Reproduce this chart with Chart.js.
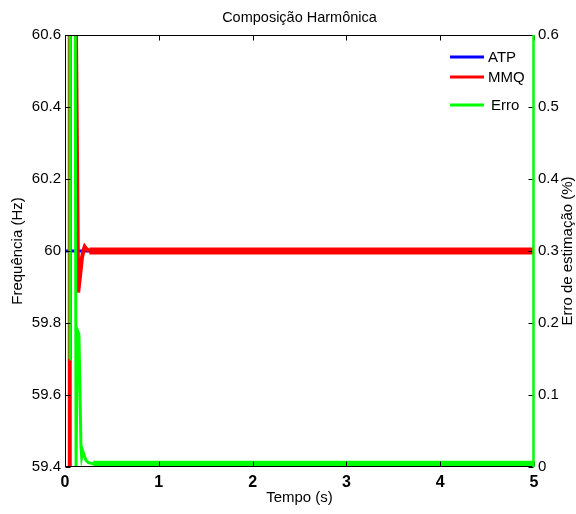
<!DOCTYPE html>
<html>
<head>
<meta charset="utf-8">
<script src="https://cdn.jsdelivr.net/npm/chart.js@4.4.0/dist/chart.umd.min.js"></script>
<style>
  html, body { margin: 0; padding: 0; background: #fff; }
</style>
</head>
<body>
<canvas id="grafico" width="576" height="514"></canvas>
<script>
// ATP (referência)
const tempoATP = [0, 5];
const freqATP = [60, 60];

// MMQ (estimativa)
const tempoMMQ = [0.049, 0.0495, 0.052, 0.108, 0.114, 0.140, 0.160, 0.180, 0.195, 0.210, 0.230, 0.260, 5];
const freqMMQ = [59.0, 59.68, 61.2, 61.2, 60.7, 59.885, 59.93, 59.98, 60.0, 60.012, 60.005, 60.0, 60.0];

// Erro de estimação (%)
const tempoErro = [0.049, 0.053, 0.105, 0.118, 0.132, 0.148, 0.158, 0.170, 0.178, 0.190, 0.205, 0.225, 0.250, 0.300, 5];
const erro = [0.15, 0.9, 0.9, 0.0, 0.19, 0.185, 0.12, 0.03, 0.014, 0.022, 0.016, 0.009, 0.006, 0.0045, 0.0045];

const ticksFreq = [59.4, 59.6, 59.8, 60, 60.2, 60.4, 60.6];
const ticksErro = [0, 0.1, 0.2, 0.3, 0.4, 0.5, 0.6];
const ticksTempo = [0, 1, 2, 3, 4, 5];

const pontos = (t, v) => t.map((x, i) => ({ x: x, y: v[i] }));

const fonte = 'Liberation Sans, Arial, sans-serif';

// moldura com ticks para dentro (estilo MATLAB)
const molduraPlugin = {
  id: 'moldura',
  afterDatasetsDraw(chart) {
    const { ctx, chartArea: a, scales } = chart;
    const L = Math.round(a.left) + 0.5, R = Math.round(a.right) - 0.5;
    const T = Math.round(a.top) + 0.5, B = Math.round(a.bottom) - 0.5;
    ctx.save();
    ctx.strokeStyle = '#000';
    ctx.lineWidth = 1;
    ctx.beginPath();
    ctx.moveTo(R, T); ctx.lineTo(L, T); ctx.lineTo(L, B); ctx.lineTo(R, B);
    ticksTempo.forEach(v => {
      const x = Math.round(scales.x.getPixelForValue(v)) + 0.5;
      ctx.moveTo(x, T); ctx.lineTo(x, T + 5);
      ctx.moveTo(x, B); ctx.lineTo(x, B - 5);
    });
    ticksFreq.forEach(v => {
      const y = Math.round(scales.y.getPixelForValue(v)) + 0.5;
      ctx.moveTo(L, y); ctx.lineTo(L + 5, y);
    });
    ticksErro.forEach(v => {
      const y = Math.round(scales.y2.getPixelForValue(v)) + 0.5;
      ctx.moveTo(R, y); ctx.lineTo(R - 5, y);
    });
    ctx.stroke();
    // eixo direito em verde
    ctx.strokeStyle = '#00ff00';
    ctx.lineWidth = 2.5;
    ctx.beginPath();
    ctx.moveTo(R, a.top); ctx.lineTo(R, a.bottom);
    ctx.stroke();

    // título do eixo direito (de baixo para cima)
    ctx.fillStyle = '#000';
    ctx.font = '15px ' + fonte;
    ctx.textAlign = 'center';
    ctx.textBaseline = 'middle';
    ctx.translate(568, (a.top + a.bottom) / 2);
    ctx.rotate(-Math.PI / 2);
    ctx.fillText('Erro de estimação (%)', 0, 0);
    ctx.restore();

    // legenda dentro do gráfico
    const itens = [
      { nome: 'ATP', cor: '#0000ff', y: 57, x: 488 },
      { nome: 'MMQ', cor: '#ff0000', y: 77, x: 488 },
      { nome: 'Erro', cor: '#00ff00', y: 105, x: 491 }
    ];
    ctx.save();
    ctx.font = '15px ' + fonte;
    ctx.textBaseline = 'middle';
    ctx.textAlign = 'left';
    itens.forEach(it => {
      ctx.strokeStyle = it.cor;
      ctx.lineWidth = 3;
      ctx.beginPath();
      ctx.moveTo(450, it.y); ctx.lineTo(484, it.y);
      ctx.stroke();
      ctx.fillStyle = '#000';
      ctx.fillText(it.nome, it.x, it.y + 1);
    });
    ctx.restore();
  }
};

new Chart(document.getElementById('grafico'), {
  type: 'line',
  data: {
    datasets: [
      {
        label: 'ATP',
        data: pontos(tempoATP, freqATP),
        yAxisID: 'y',
        borderColor: '#0000ff',
        borderWidth: 3,
        pointRadius: 0,
        order: 3
      },
      {
        label: 'MMQ',
        data: pontos(tempoMMQ, freqMMQ),
        yAxisID: 'y',
        borderColor: '#ff0000',
        borderWidth: 4,
        pointRadius: 0,
        order: 2,
        segment: {
          borderWidth: c => c.p0.parsed.x >= 0.26 ? 7 : 4
        }
      },
      {
        label: 'Erro',
        data: pontos(tempoErro, erro),
        yAxisID: 'y2',
        borderColor: '#00ff00',
        borderWidth: 3,
        pointRadius: 0,
        order: 1,
        segment: {
          borderWidth: c => c.p0.parsed.x >= 0.3 ? 6 : 3
        }
      }
    ]
  },
  options: {
    responsive: false,
    animation: false,
    devicePixelRatio: 1,
    layout: { padding: 0 },
    plugins: {
      legend: { display: false },
      tooltip: { enabled: false },
      title: {
        display: true,
        fullSize: false,
        text: 'Composição Harmônica',
        color: '#000',
        font: { family: fonte, size: 14.5, weight: 'normal' },
        padding: { top: 9, bottom: 8.6 }
      }
    },
    scales: {
      x: {
        type: 'linear',
        min: 0,
        max: 5,
        grid: { display: false, drawTicks: false },
        border: { display: false },
        afterBuildTicks: s => { s.ticks = ticksTempo.map(v => ({ value: v })); },
        afterFit: s => { s.height = 47; },
        ticks: {
          color: '#000',
          padding: 6,
          maxRotation: 0,
          autoSkip: false,
          font: { family: fonte, size: 16, weight: 'bold' },
          callback: v => String(v)
        },
        title: {
          display: true,
          text: 'Tempo (s)',
          color: '#000',
          font: { family: fonte, size: 15 },
          padding: { top: 0, bottom: 7 }
        }
      },
      y: {
        position: 'left',
        min: 59.4,
        max: 60.6,
        grid: { display: false, drawTicks: false },
        border: { display: false },
        afterBuildTicks: s => { s.ticks = ticksFreq.map(v => ({ value: v })); },
        afterFit: s => { s.width = 65; },
        ticks: {
          color: '#000',
          padding: 4,
          autoSkip: false,
          font: { family: fonte, size: 15 },
          callback: v => String(v)
        },
        title: {
          display: true,
          text: 'Frequência (Hz)',
          color: '#000',
          font: { family: fonte, size: 15 },
          padding: { top: 9, bottom: 0 }
        }
      },
      y2: {
        position: 'right',
        min: 0,
        max: 0.6,
        grid: { display: false, drawTicks: false },
        border: { display: false },
        afterBuildTicks: s => { s.ticks = ticksErro.map(v => ({ value: v })); },
        afterFit: s => { s.width = 42; },
        ticks: {
          color: '#000',
          padding: 4,
          autoSkip: false,
          font: { family: fonte, size: 15 },
          callback: v => String(v)
        }
      }
    }
  },
  plugins: [molduraPlugin]
});
</script>
</body>
</html>
